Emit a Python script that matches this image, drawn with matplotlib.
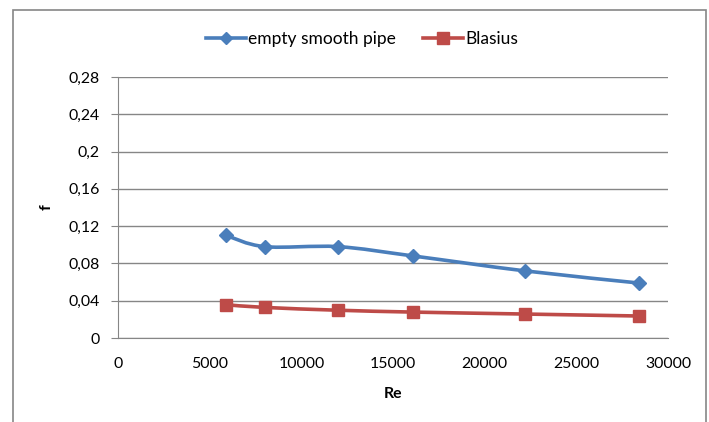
import numpy as np
import matplotlib.pyplot as plt
from matplotlib.path import Path
from matplotlib.patches import PathPatch, Rectangle
from matplotlib.ticker import FuncFormatter

re_vals = [5900, 8000, 12000, 16100, 22200, 28400]
f_pipe = [0.110, 0.098, 0.098, 0.088, 0.072, 0.059]
f_blasius = [0.0357, 0.0328, 0.0298, 0.0278, 0.0257, 0.0236]

xticks = [0, 5000, 10000, 15000, 20000, 25000, 30000]
yticks = [0, 0.04, 0.08, 0.12, 0.16, 0.2, 0.24, 0.28]

blue = '#4a7ebb'
red = '#be4b48'

plt.rcParams['font.family'] = ['Lato', 'DejaVu Sans']


def smooth_path(x, y):
    # excel-like smoothed line: cubic bezier with catmull-rom control points
    x = np.asarray(x, float)
    y = np.asarray(y, float)
    verts = [(x[0], y[0])]
    codes = [Path.MOVETO]
    n = len(x)
    for i in range(n - 1):
        x0, y0 = (x[i - 1], y[i - 1]) if i > 0 else (x[i], y[i])
        x3, y3 = (x[i + 2], y[i + 2]) if i + 2 < n else (x[i + 1], y[i + 1])
        c1 = (x[i] + (x[i + 1] - x0) / 6, y[i] + (y[i + 1] - y0) / 6)
        c2 = (x[i + 1] - (x3 - x[i]) / 6, y[i + 1] - (y3 - y[i]) / 6)
        verts += [c1, c2, (x[i + 1], y[i + 1])]
        codes += [Path.CURVE4] * 3
    return Path(verts, codes)


fig = plt.figure(figsize=(7.09, 4.22), dpi=100)
fig.patches.append(Rectangle((13 / 709, -0.05), 693 / 709, 1 - 10 / 422 + 0.05,
                             transform=fig.transFigure, fill=False,
                             edgecolor='#868686', linewidth=1.2))

ax = fig.add_axes([118 / 709, 1 - 338 / 422, 550 / 709, 261 / 422])

for xs, ys, c, m, ms, lab in [(re_vals, f_pipe, blue, 'D', 7, 'empty smooth pipe'),
                              (re_vals, f_blasius, red, 's', 9, 'Blasius')]:
    ax.add_patch(PathPatch(smooth_path(xs, ys), fill=False, edgecolor=c,
                           linewidth=2.6, zorder=3))
    ax.plot(xs, ys, linestyle='none', marker=m, markersize=ms, color=c,
            zorder=4)
    ax.plot([], [], color=c, linewidth=2.6, marker=m, markersize=ms - 1, label=lab)

ax.set_xlim(0, 30000)
ax.set_ylim(0, 0.28)
ax.set_xticks(xticks)
ax.set_yticks(yticks)
ax.yaxis.set_major_formatter(FuncFormatter(lambda v, p: ('%g' % round(v, 2)).replace('.', ',')))
ax.grid(axis='y', color='#868686', linewidth=1)
ax.set_axisbelow(True)
for s in ['top', 'right']:
    ax.spines[s].set_visible(False)
for s in ['left', 'bottom']:
    ax.spines[s].set_color('#868686')
ax.tick_params(axis='y', length=5, color='#868686', labelsize=11.4, pad=8)
ax.tick_params(axis='x', length=0, labelsize=11.4, pad=14)

ax.set_xlabel('Re', fontweight='bold', fontsize=11.4, labelpad=11)
ax.set_ylabel('f', fontweight='bold', fontsize=11.4, labelpad=11)

fig.legend(loc='center', bbox_to_anchor=(362 / 709, 1 - 39 / 422), ncol=2,
           frameon=False, fontsize=12.5, handlelength=2.3, handletextpad=0.1,
           columnspacing=1.6)

fig.savefig('out.png', dpi=100)
